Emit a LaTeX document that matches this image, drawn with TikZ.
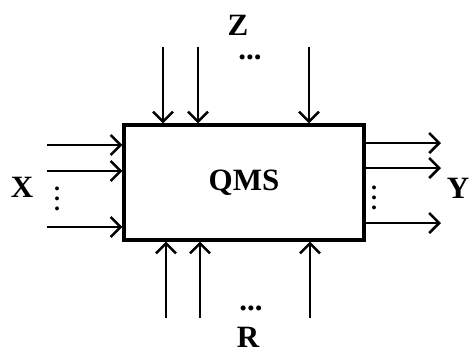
\documentclass[tikz,border=0pt]{standalone}
\usepackage{fontspec}
\setmainfont{Liberation Serif}
\usetikzlibrary{arrows.meta,positioning}

\tikzset{
  sysbox/.style={draw,line width=3.2pt,minimum width=240pt,minimum height=115pt,inner sep=0pt},
  flow/.style={line width=2.5pt,-{Straight Barb[length=10pt,width=20pt,line width=2.5pt]}},
  lbl/.style={font=\fontsize{31}{36}\selectfont\bfseries,inner sep=0pt},
  vdot/.style={font=\fontsize{24}{10}\selectfont\bfseries,align=center,inner sep=0pt}
}

\begin{document}
\begin{tikzpicture}[x=1pt,y=-1pt]
        \useasboundingbox (0,0) rectangle (472,349);
        \node[sysbox,lbl] (qms) at (244,182.5) {QMS};
        % inputs X
        \foreach \i/\y in {1/145, 2/171, 3/227}{
          \coordinate (x\i) at (47,\y);
          \draw[flow] (x\i) -- (x\i -| qms.west);
        }
        % outputs Y
        \foreach \i/\y in {1/143, 2/168, 3/223}{
          \coordinate (y\i) at (441,\y);
          \draw[flow] (y\i -| qms.east) -- (y\i);
        }
        % controls Z
        \foreach \i/\x in {1/163, 2/198, 3/309}{
          \coordinate (z\i) at (\x,47);
          \draw[flow] (z\i) -- (z\i |- qms.north);
        }
        % resources R
        \foreach \i/\x in {1/166, 2/200, 3/310}{
          \coordinate (r\i) at (\x,318);
          \draw[flow] (r\i) -- (r\i |- qms.south);
        }
        \node[lbl] (xl) at (22,187) {X};
        \node[lbl] (yl) at (458,188) {Y};
        \node[lbl] (zl) at (238,25) {Z};
        \node[lbl] (rl) at (248,337) {R};
        \node[lbl] (zd) at (250,57) {...};
        \node[lbl] (rd) at (251,308) {...};
        \node[vdot] (xd) at (57,199) {.\\.\\.};
        \node[vdot] (yd) at (374,198) {.\\.\\.};
\end{tikzpicture}
\end{document}
